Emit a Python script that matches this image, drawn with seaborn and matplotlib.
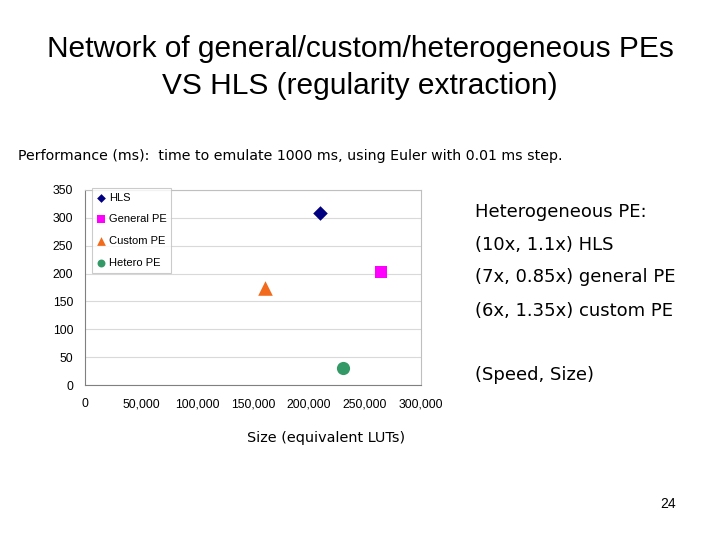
import matplotlib
matplotlib.use("Agg")
import matplotlib.pyplot as plt
import pandas as pd
import seaborn as sns

names = ["HLS", "General PE", "Custom PE", "Hetero PE"]
size_luts = [210000, 264000, 161000, 230500]
perf_ms = [308, 202, 174, 30]
notes = ["Heterogeneous PE:", "(10x, 1.1x) HLS", "(7x, 0.85x) general PE",
         "(6x, 1.35x) custom PE", "", "(Speed, Size)"]

colors = {"HLS": "#000080", "General PE": "#ff00ff", "Custom PE": "#f26a1b", "Hetero PE": "#339966"}
markers = {"HLS": "D", "General PE": "s", "Custom PE": "^", "Hetero PE": "o"}
sizes_pt = {"HLS": 55, "General PE": 80, "Custom PE": 110, "Hetero PE": 90}

data = pd.DataFrame({"name": names, "size": size_luts, "perf": perf_ms})

sns.set_style("white")
plt.rcParams["font.family"] = ["Liberation Sans", "DejaVu Sans"]
plt.rcParams["text.color"] = "black"
plt.rcParams["xtick.color"] = "black"
plt.rcParams["ytick.color"] = "black"

fig = plt.figure(figsize=(7.2, 5.4), dpi=100)
ax = fig.add_axes([85 / 720, 1 - 385 / 540, 336 / 720, 195 / 540])

for name in names:
    sub = data[data["name"] == name]
    sns.scatterplot(data=sub, x="size", y="perf", color=colors[name], marker=markers[name],
                    s=sizes_pt[name], linewidth=0, ax=ax, label=name, zorder=3)

ax.set(xlim=(0, 300000), ylim=(0, 350), xlabel="", ylabel="")
ax.set_xticks(range(0, 300001, 50000))
ax.set_xticklabels([f"{v:,}" for v in range(0, 300001, 50000)])
ax.set_yticks(range(0, 351, 50))
ax.tick_params(labelsize=8.8, length=0)
ax.tick_params(axis="x", pad=9.5)
ax.tick_params(axis="y", pad=8.5)
ax.yaxis.grid(True, color="#d9d9d9", linewidth=0.8)
for side in ("top", "right"):
    ax.spines[side].set_color("#bfbfbf")
for side in ("left", "bottom"):
    ax.spines[side].set_color("#808080")

leg = ax.legend(loc="upper left", bbox_to_anchor=(7 / 336, 1.012), borderaxespad=0,
                fontsize=8, frameon=True, fancybox=False, edgecolor="#bfbfbf",
                handletextpad=0.25, borderpad=0.45, labelspacing=1.05, handlelength=0.8,
                markerscale=0.6)
leg.get_frame().set_linewidth(0.8)

fig.text(360 / 720, 1 - 49 / 540, "Network of general/custom/heterogeneous PEs",
         ha="center", va="center", fontsize=21.5)
fig.text(360 / 720, 1 - 86 / 540, "VS HLS (regularity extraction)",
         ha="center", va="center", fontsize=21.5)
fig.text(18 / 720, 1 - 156 / 540,
         "Performance (ms):  time to emulate 1000 ms, using Euler with 0.01 ms step.",
         ha="left", va="center", fontsize=10.2, family="DejaVu Sans")

y_notes = [212, 245, 277, 311, 343, 375]
for txt, yp in zip(notes, y_notes):
    if txt:
        fig.text(475 / 720, 1 - yp / 540, txt, ha="left", va="center",
                 fontsize=13, family="DejaVu Sans")

fig.text(326 / 720, 1 - 438 / 540, "Size (equivalent LUTs)", ha="center", va="center",
         fontsize=10.4, family="DejaVu Sans")
fig.text(668 / 720, 1 - 504 / 540, "24", ha="center", va="center", fontsize=10)

fig.savefig("out.png", dpi=100)
